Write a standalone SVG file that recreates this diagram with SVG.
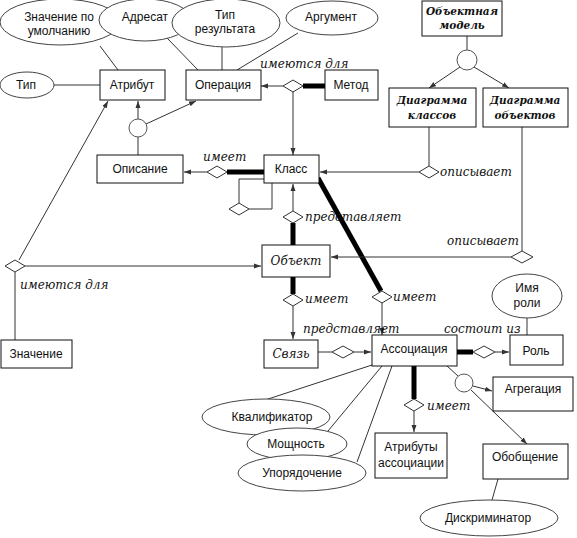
<svg xmlns="http://www.w3.org/2000/svg" width="577" height="538" viewBox="0 0 577 538">
<style>
.box{fill:#fff;stroke:#111;stroke-width:1}
.ell{fill:#fff;stroke:#444;stroke-width:1}
.t{font-family:"Liberation Sans",Arial,sans-serif;font-size:12px;text-anchor:middle;fill:#111}
.it{font-family:"DejaVu Serif",serif;font-style:italic;font-size:12px;fill:#111}
.itc{font-family:"DejaVu Serif",serif;font-style:italic;font-size:12px;fill:#111;text-anchor:middle}
.bi{font-family:"DejaVu Serif",serif;font-style:italic;font-weight:bold;font-size:10.5px;fill:#111;text-anchor:middle}
.ln{stroke:#333;stroke-width:1;fill:none}
.ar{stroke:#333;stroke-width:1;fill:none;marker-end:url(#a)}
.th{stroke:#000;stroke-width:5;fill:none}
.dia{fill:#fff;stroke:#333;stroke-width:1}
.cir{fill:#fff;stroke:#555;stroke-width:1}
</style>
<defs>
<marker id="a" markerUnits="userSpaceOnUse" markerWidth="7" markerHeight="6" refX="7" refY="3" orient="auto">
<path d="M0,0.5 L7,3 L0,5.5 z" fill="#333"/>
</marker>
</defs>
<rect width="577" height="538" fill="#fff"/>

<g id="connectors">
<!-- ellipses to boxes -->
<line class="ln" x1="100" y1="46" x2="118" y2="70"/>
<line class="ln" x1="167" y1="38" x2="198" y2="70"/>
<line class="ln" x1="222" y1="47" x2="222" y2="70"/>
<line class="ln" x1="298" y1="33" x2="237" y2="70"/>
<line class="ln" x1="54" y1="85" x2="100" y2="85"/>
<!-- Описание circle -->
<line class="ln" x1="138" y1="137" x2="138" y2="155"/>
<line class="ar" x1="138" y1="119" x2="138" y2="101"/>
<line class="ar" x1="146" y1="124" x2="196" y2="101"/>
<!-- Метод - Операция - Класс -->
<line class="th" x1="303" y1="86" x2="325" y2="86"/>
<line class="ar" x1="283" y1="86" x2="261" y2="86"/>
<line class="ar" x1="293" y1="92" x2="293" y2="155"/>
<!-- Класс - Описание -->
<line class="th" x1="227" y1="172" x2="264" y2="172"/>
<line class="ar" x1="207" y1="172" x2="184" y2="172"/>
<!-- self loop -->
<polyline class="ln" points="264,179 239,179 239,203"/>
<polyline class="ln" points="249,209 272,209 272,183"/>
<!-- Класс - Объект -->
<line class="ar" x1="293" y1="211" x2="293" y2="184"/>
<line class="th" x1="293" y1="223" x2="293" y2="245"/>
<!-- Класс - Ассоциация -->
<line class="th" x1="318" y1="178" x2="381" y2="291"/>
<line class="ar" x1="382" y1="303" x2="382" y2="335"/>
<!-- Объектная модель -->
<line class="ln" x1="467" y1="36" x2="467" y2="50"/>
<line class="ar" x1="460" y1="67" x2="429" y2="88"/>
<line class="ar" x1="474" y1="67" x2="509" y2="88"/>
<!-- Диаграмма классов - Класс -->
<line class="ln" x1="429" y1="127" x2="429" y2="166"/>
<line class="ar" x1="419" y1="172" x2="320" y2="172"/>
<!-- Диаграмма объектов - Объект -->
<line class="ln" x1="522" y1="127" x2="522" y2="251"/>
<line class="ar" x1="511" y1="257" x2="331" y2="257"/>
<!-- Значение -->
<line class="ln" x1="15" y1="272" x2="15" y2="340"/>
<line class="ar" x1="19" y1="260" x2="108" y2="101"/>
<line class="ar" x1="25" y1="266" x2="261" y2="266"/>
<!-- Объект - Связь -->
<line class="th" x1="293" y1="277" x2="293" y2="294"/>
<line class="ar" x1="293" y1="306" x2="293" y2="339"/>
<!-- Связь - Ассоциация -->
<line class="ln" x1="318" y1="352" x2="332" y2="352"/>
<line class="ar" x1="354" y1="352" x2="371" y2="352"/>
<!-- Ассоциация - Роль -->
<line class="th" x1="457" y1="352" x2="473" y2="352"/>
<line class="ar" x1="495" y1="352" x2="509" y2="352"/>
<line class="ln" x1="527" y1="318" x2="527" y2="335"/>
<!-- Ассоциация - Атрибуты -->
<line class="th" x1="414" y1="366" x2="414" y2="399"/>
<line class="ar" x1="414" y1="411" x2="414" y2="432"/>
<!-- Ассоциация - ellipses -->
<line class="ln" x1="372" y1="365" x2="265" y2="400"/>
<line class="ln" x1="382" y1="366" x2="328" y2="431"/>
<line class="ln" x1="392" y1="366" x2="357" y2="462"/>
<!-- Aggregation / generalization -->
<line class="ln" x1="447" y1="366" x2="458" y2="376"/>
<line class="ar" x1="473" y1="386" x2="492" y2="391"/>
<line class="ar" x1="471" y1="390" x2="527" y2="444"/>
<line class="ln" x1="498" y1="479" x2="492" y2="500"/>
</g>

<!-- diamonds and circles -->
<g id="junctions">
<polygon class="dia" points="283,86 293,80 303,86 293,92"/>
<polygon class="dia" points="207,172 217,166 227,172 217,178"/>
<polygon class="dia" points="229,209 239,203 249,209 239,215"/>
<polygon class="dia" points="283,217 293,211 303,217 293,223"/>
<polygon class="dia" points="372,297 382,291 392,297 382,303"/>
<polygon class="dia" points="419,172 429,166 439,172 429,178"/>
<polygon class="dia" points="511,257 522,251 533,257 522,263"/>
<polygon class="dia" points="5,266 15,260 25,266 15,272"/>
<polygon class="dia" points="283,300 293,294 303,300 293,306"/>
<polygon class="dia" points="332,352 343,346 354,352 343,358"/>
<polygon class="dia" points="473,352 484,346 495,352 484,358"/>
<polygon class="dia" points="404,405 414,399 424,405 414,411"/>
<circle class="cir" cx="138" cy="128" r="9"/>
<circle class="cir" cx="467" cy="60" r="10"/>
<circle class="cir" cx="464" cy="383" r="9"/>
</g>

<g id="n-znach-default"><ellipse class="ell" cx="60" cy="22" rx="60" ry="23"/><text class="t" x="59" y="21">Значение по</text><text class="t" x="59" y="35">умолчанию</text></g>
<g id="n-adresat"><ellipse class="ell" cx="145" cy="20" rx="46" ry="21"/><text class="t" x="145" y="21">Адресат</text></g>
<g id="n-tip-rez"><ellipse class="ell" cx="226" cy="23" rx="54" ry="24"/><text class="t" x="225" y="19">Тип</text><text class="t" x="225" y="33">результата</text></g>
<g id="n-argument"><ellipse class="ell" cx="332" cy="18" rx="46" ry="17"/><text class="t" x="331" y="21">Аргумент</text></g>
<g id="n-tip"><ellipse class="ell" cx="27" cy="85" rx="27" ry="13"/><text class="t" x="26" y="89">Тип</text></g>
<g id="n-atribut"><rect class="box" x="100" y="70" width="65" height="30"/><text class="t" x="132" y="89">Атрибут</text></g>
<g id="n-operaciya"><rect class="box" x="186" y="70" width="75" height="30"/><text class="t" x="223" y="89">Операция</text></g>
<g id="n-metod"><rect class="box" x="325" y="70" width="53" height="30"/><text class="t" x="351" y="89">Метод</text></g>
<g id="n-obj-model"><rect class="box" x="422" y="1" width="80" height="35"/><text class="bi" x="462" y="15">Объектная</text><text class="bi" x="462" y="29">модель</text></g>
<g id="n-diag-kl"><rect class="box" x="389" y="88" width="87" height="39"/><text class="bi" x="432" y="104">Диаграмма</text><text class="bi" x="432" y="119">классов</text></g>
<g id="n-diag-ob"><rect class="box" x="483" y="88" width="85" height="39"/><text class="bi" x="525" y="104">Диаграмма</text><text class="bi" x="525" y="119">объектов</text></g>
<g id="n-opisanie"><rect class="box" x="97" y="155" width="86" height="28"/><text class="t" x="140" y="173">Описание</text></g>
<g id="n-klass"><rect class="box" x="264" y="155" width="55" height="28"/><text class="t" x="291" y="173">Класс</text></g>
<g id="n-obekt"><rect class="box" x="262" y="245" width="68" height="32"/><text class="itc" x="296" y="265">Объект</text></g>
<g id="n-znachenie"><rect class="box" x="1" y="340" width="71" height="28"/><text class="t" x="36" y="358">Значение</text></g>
<g id="n-svyaz"><rect class="box" x="264" y="340" width="54" height="28"/><text class="itc" x="291" y="358">Связь</text></g>
<g id="n-assoc"><rect class="box" x="372" y="335" width="85" height="31"/><text class="t" x="414" y="353">Ассоциация</text></g>
<g id="n-imya-roli"><ellipse class="ell" cx="527" cy="296" rx="35" ry="22"/><text class="t" x="527" y="292">Имя</text><text class="t" x="527" y="307">роли</text></g>
<g id="n-rol"><rect class="box" x="510" y="335" width="53" height="30"/><text class="t" x="536" y="355">Роль</text></g>
<g id="n-agreg"><rect class="box" x="493" y="377" width="80" height="34"/><text class="t" x="533" y="393">Агрегация</text></g>
<g id="n-kval"><ellipse class="ell" cx="266" cy="417" rx="64" ry="18"/><text class="t" x="272" y="421">Квалификатор</text></g>
<g id="n-moshch"><ellipse class="ell" cx="297" cy="444" rx="50" ry="16"/><text class="t" x="296" y="448">Мощность</text></g>
<g id="n-uporyad"><ellipse class="ell" cx="302" cy="473" rx="64" ry="18"/><text class="t" x="302" y="477">Упорядочение</text></g>
<g id="n-atr-assoc"><rect class="box" x="375" y="433" width="72" height="45"/><text class="t" x="411" y="451">Атрибуты</text><text class="t" x="411" y="467">ассоциации</text></g>
<g id="n-obobshch"><rect class="box" x="483" y="444" width="85" height="35"/><text class="t" x="525" y="461">Обобщение</text></g>
<g id="n-diskr"><ellipse class="ell" cx="489" cy="518" rx="69" ry="18"/><text class="t" x="488" y="522">Дискриминатор</text></g>

<g id="labels">
<text class="it" x="260" y="68">имеются для</text>
<text class="it" x="203" y="161">имеет</text>
<text class="it" x="305" y="221">представляет</text>
<text class="it" x="440" y="176">описывает</text>
<text class="it" x="447" y="245">описывает</text>
<text class="it" x="305" y="303">имеет</text>
<text class="it" x="393" y="301">имеет</text>
<text class="it" x="303" y="333">представляет</text>
<text class="it" x="444" y="333">состоит из</text>
<text class="it" x="427" y="410">имеет</text>
<text class="it" x="20" y="289">имеются для</text>
</g>
</svg>
